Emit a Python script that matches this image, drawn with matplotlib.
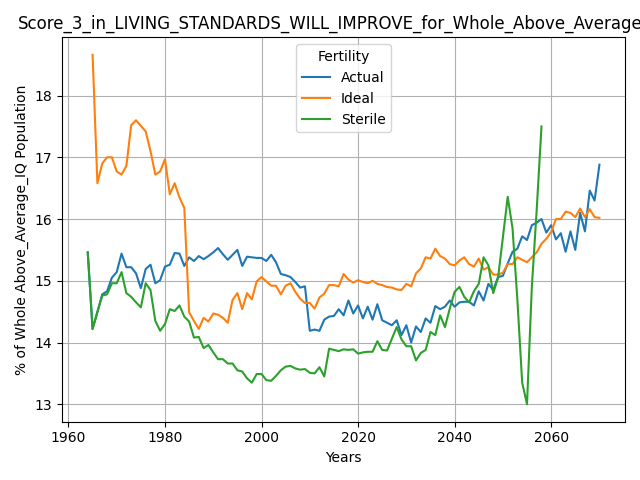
import numpy as np
import matplotlib
matplotlib.use("Agg")
import matplotlib.pyplot as plt

years_actual = list(range(1964, 2071))
actual = [15.46, 14.22, 14.49, 14.78, 14.83, 15.05, 15.14, 15.44, 15.22, 15.22,
          15.12, 14.88, 15.19, 15.26, 14.96, 15.01, 15.23, 15.26, 15.45, 15.44,
          15.24, 15.38, 15.32, 15.40, 15.35, 15.40, 15.46, 15.53, 15.43, 15.34,
          15.42, 15.50, 15.24, 15.39, 15.38, 15.37, 15.37, 15.32, 15.42, 15.30,
          15.11, 15.09, 15.06, 14.98, 14.89, 14.91, 14.19, 14.21, 14.19, 14.37,
          14.42, 14.43, 14.54, 14.44, 14.68, 14.47, 14.60, 14.39, 14.58, 14.37,
          14.62, 14.36, 14.32, 14.28, 14.36, 14.12, 14.28, 14.00, 14.26, 14.17,
          14.39, 14.32, 14.59, 14.54, 14.58, 14.68, 14.58, 14.65, 14.66, 14.66,
          14.60, 14.83, 14.68, 14.95, 14.85, 15.06, 15.08, 15.28, 15.47, 15.52,
          15.72, 15.66, 15.90, 15.94, 16.00, 15.78, 15.90, 15.67, 15.77, 15.47,
          15.80, 15.50, 16.10, 15.80, 16.46, 16.30, 16.88]

years_ideal = list(range(1965, 2071))
ideal = [18.66, 16.58, 16.90, 17.00, 17.00, 16.77, 16.72, 16.86, 17.52, 17.60,
         17.51, 17.42, 17.10, 16.72, 16.77, 16.97, 16.40, 16.58, 16.35, 16.18,
         14.49, 14.35, 14.22, 14.40, 14.34, 14.47, 14.45, 14.40, 14.32, 14.69,
         14.80, 14.54, 14.80, 14.70, 14.99, 15.06, 14.99, 14.92, 14.92, 14.78,
         14.92, 14.96, 14.82, 14.71, 14.64, 14.64, 14.55, 14.73, 14.79, 14.93,
         14.93, 14.91, 15.11, 15.02, 14.97, 15.01, 14.98, 14.96, 15.00, 14.95,
         14.93, 14.90, 14.89, 14.86, 14.85, 14.95, 14.91, 15.12, 15.20, 15.38,
         15.36, 15.52, 15.40, 15.36, 15.27, 15.25, 15.33, 15.38, 15.27, 15.23,
         15.36, 15.18, 15.22, 15.10, 15.10, 15.13, 15.27, 15.27, 15.38, 15.34,
         15.30, 15.38, 15.46, 15.60, 15.68, 15.79, 16.00, 16.00, 16.12, 16.10,
         16.03, 16.17, 16.03, 16.16, 16.03, 16.02]

years_sterile = list(range(1964, 2059))
sterile = [15.46, 14.22, 14.50, 14.76, 14.78, 14.96, 14.96, 15.14, 14.80, 14.74,
           14.65, 14.57, 14.96, 14.85, 14.35, 14.19, 14.30, 14.54, 14.51, 14.60,
           14.42, 14.34, 14.08, 14.09, 13.91, 13.96, 13.84, 13.73, 13.73, 13.66,
           13.66, 13.55, 13.53, 13.42, 13.35, 13.49, 13.49, 13.39, 13.38, 13.46,
           13.55, 13.61, 13.62, 13.58, 13.56, 13.57, 13.51, 13.50, 13.60, 13.45,
           13.90, 13.88, 13.86, 13.89, 13.88, 13.89, 13.82, 13.84, 13.85, 13.85,
           14.02, 13.88, 13.87, 14.06, 14.25, 14.05, 13.94, 13.94, 13.71, 13.83,
           13.88, 14.17, 14.12, 14.44, 14.25, 14.55, 14.82, 14.90, 14.74, 14.65,
           14.83, 14.95, 15.38, 15.25, 14.80, 15.05, 15.70, 16.36, 15.85, 14.70,
           13.35, 13.00, 14.90, 16.14, 17.50]

fig, ax = plt.subplots(figsize=(6.4, 4.8), dpi=100)
ax.plot(years_actual, actual, label="Actual")
ax.plot(years_ideal, ideal, label="Ideal")
ax.plot(years_sterile, sterile, label="Sterile")
ax.set_title("Score_3_in_LIVING_STANDARDS_WILL_IMPROVE_for_Whole_Above_Average_IQ")
ax.set_xlabel("Years")
ax.set_ylabel("% of Whole Above_Average_IQ Population")
ax.grid(True)
ax.legend(title="Fertility", loc="upper center")
fig.tight_layout()
fig.savefig("out.png")
